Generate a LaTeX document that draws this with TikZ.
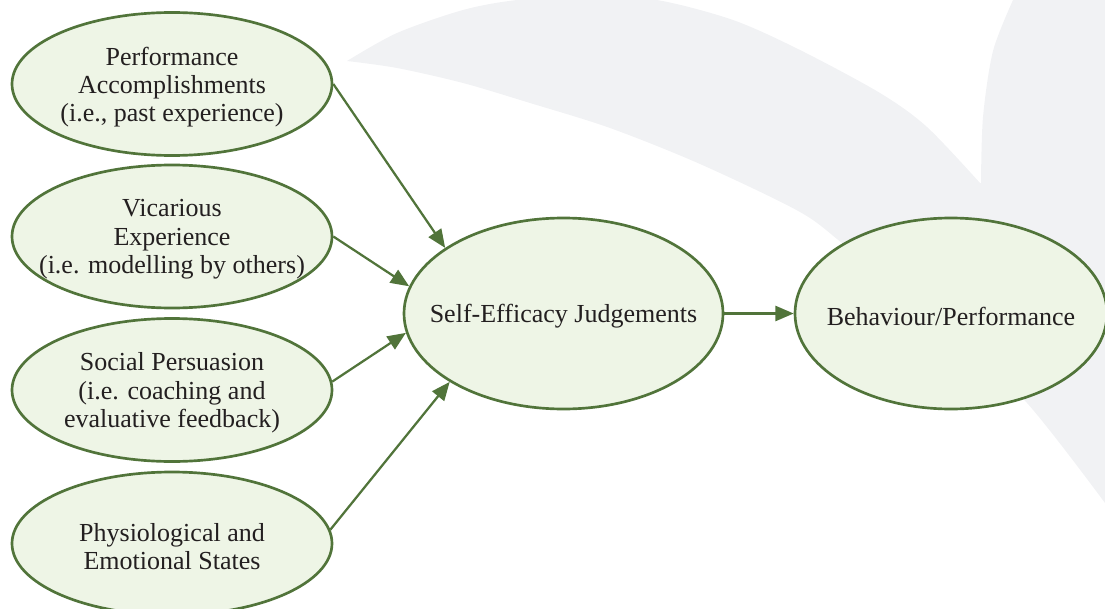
\documentclass[tikz,border=0pt]{standalone}
\usepackage{fontspec}
\setmainfont{Liberation Serif}
\usetikzlibrary{shapes.geometric,arrows.meta}
\definecolor{leaf}{HTML}{51743A}
\definecolor{leaffill}{HTML}{EEF5E6}
\definecolor{ink}{HTML}{231F20}
\definecolor{swoosh}{HTML}{F1F2F4}
\begin{document}
\begin{tikzpicture}[
  oval/.style={ellipse,draw=leaf,fill=leaffill,line width=1.9pt,inner sep=0pt},
  src/.style={oval,minimum width=8cm,minimum height=3.575cm},
  lbl/.style={align=center,text=ink,inner sep=0pt,yshift=-0.07cm,font=\fontsize{18.5}{20}\selectfont},
  link/.style={draw=leaf,line width=1.6pt,-{Triangle[length=0.46cm,width=0.38cm]}}]
  \useasboundingbox (0,0) rectangle (27.625,15.2);
  % grey swoosh behind everything
  \begin{scope}
    \clip (0,0) rectangle (27.625,15.2);
    \fill[swoosh] plot[smooth] coordinates {(8.675,13.675) (9.925,14.375) (11.575,14.95)
        (12.925,15.2) (14.7,15.3) (16.425,15.2) (18.325,14.7) (20,13.95) (22,12.875)
        (23.175,12.025) (24.5,10.625)}
      -- plot[smooth] coordinates {(24.525,10.625) (24.575,12.275) (24.825,13.925) (25.325,15.2)}
      -- (25.4,15.4) -- (27.8,15.4) -- (27.8,2.4)
      -- plot[smooth] coordinates {(27.625,2.625) (25.675,5.125) (23.5,7.2) (21.175,9.025)
        (20,9.9) (17.5,11.1) (15.25,12) (13.25,12.625) (11.575,13.125) (9.925,13.5) (8.675,13.675)}
      -- cycle;
  \end{scope}
  % the four sources
  \path (4.3,13.1) node[src,label={[lbl]center:Performance\\Accomplishments\\(i.e., past experience)}] (perf) {};
  \path (4.3,9.2875) node[src,label={[lbl]center:Vicarious\\Experience\\(i.e. modelling by others)}] (vic) {};
  \path (4.3,5.45) node[src,label={[lbl]center:Social Persuasion\\(i.e. coaching and\\evaluative feedback)}] (soc) {};
  \path (4.3,1.6125) node[src,label={[lbl]center:Physiological and\\Emotional States}] (phys) {};
  % judgements and outcome
  \path (14.0875,7.3625) node[oval,minimum width=7.975cm,minimum height=4.775cm,
    label={[lbl]center:Self-Efficacy Judgements}] (se) {};
  \path (23.775,7.3625) node[oval,minimum width=7.8cm,minimum height=4.775cm,
    label={[lbl]center:Behaviour/Performance}] (beh) {};
  \draw[link] (perf.east) -- (se.151);
  \draw[link] (vic.east) -- (se.170);
  \draw[link] (soc.3) -- (se.187);
  \draw[link] (phys.5) -- (se.211);
  \draw[link] (se.east) -- (beh.west);
\end{tikzpicture}
\end{document}
